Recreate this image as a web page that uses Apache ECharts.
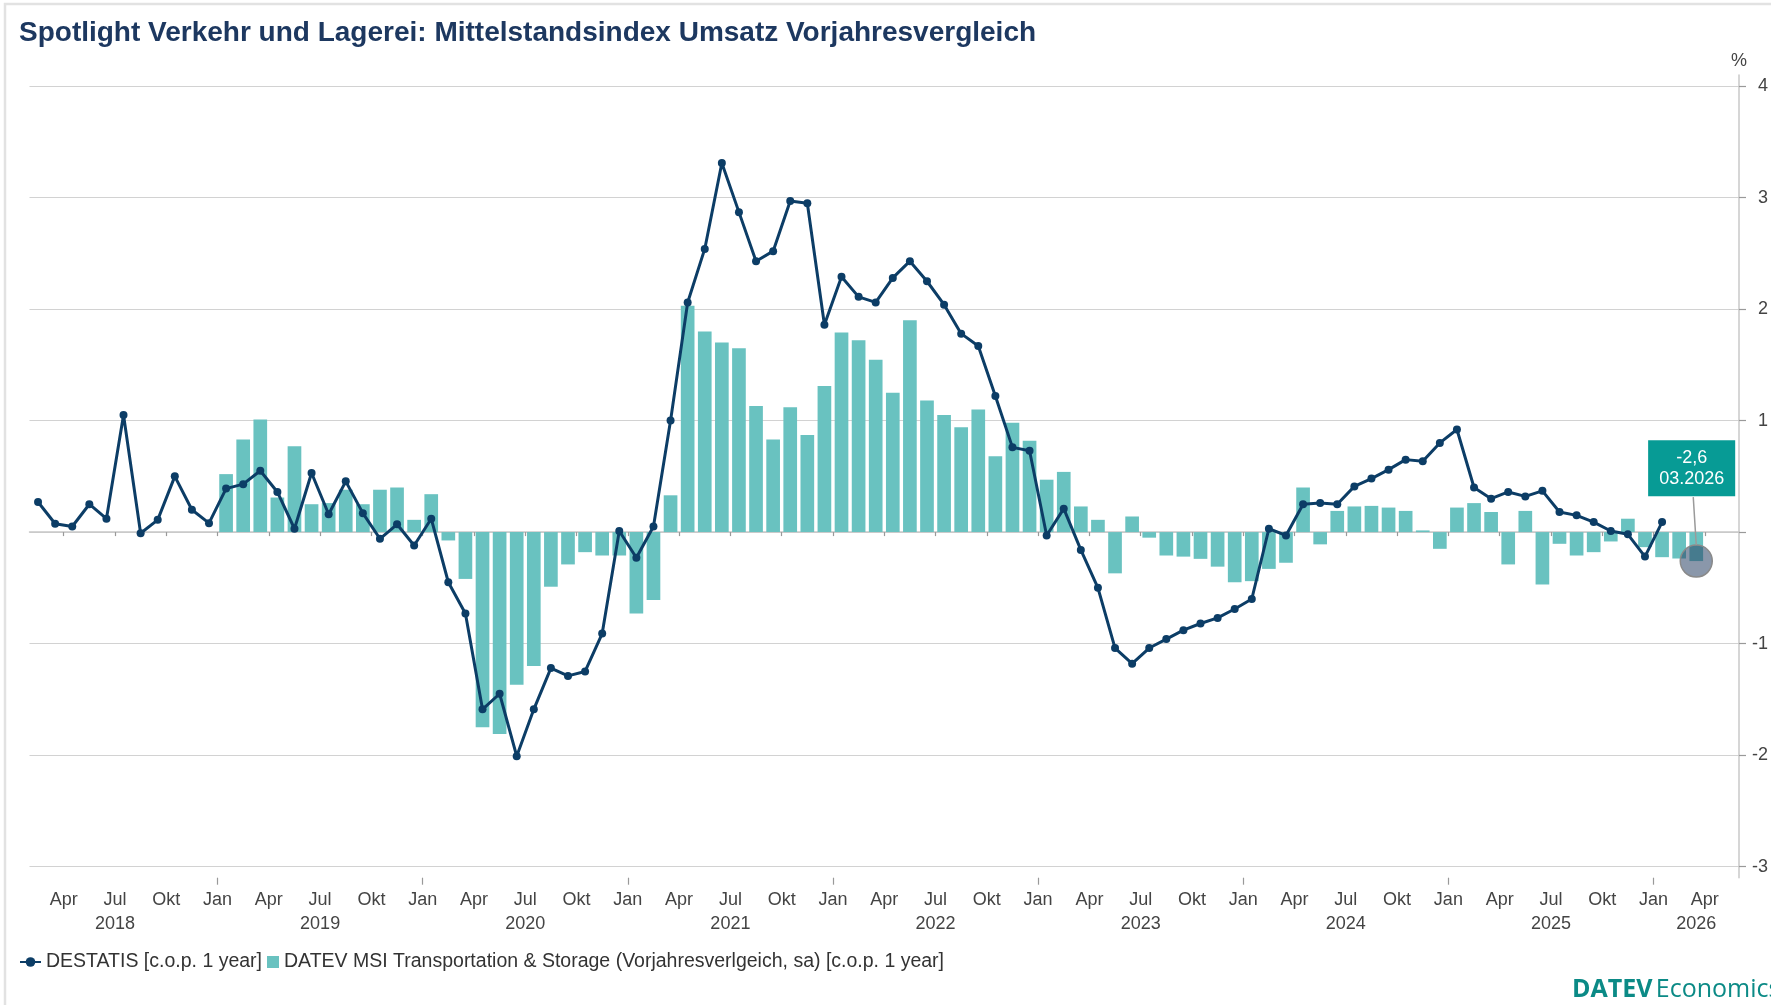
<!DOCTYPE html>
<html>
<head>
<meta charset="utf-8">
<title>Spotlight Verkehr und Lagerei</title>
<script src="https://cdn.jsdelivr.net/npm/echarts@6.0.0/dist/echarts.min.js"></script>
<style>
  html, body { margin: 0; padding: 0; background: #fff; }
  #chart { width: 1771px; height: 1005px; }
</style>
</head>
<body>
<div id="chart"></div>
<script>
// Monatsachse Feb 2018 - Mai 2026
const startYear = 2018;
const startMonth = 2;
const monthCount = 100;

// DESTATIS, Feb 2018 - Jan 2026 (sichtbare Skala, %)
const destatis = [
  0.27, 0.075, 0.05, 0.25, 0.12, 1.05, -0.01, 0.11, 0.50, 0.20, 0.08,
  0.39, 0.43, 0.55, 0.36, 0.03, 0.53, 0.16, 0.455, 0.17, -0.06, 0.07, -0.12,
  0.12, -0.45, -0.73, -1.59, -1.45, -2.01, -1.59, -1.22, -1.29, -1.25, -0.91, 0.01,
  -0.23, 0.05, 1.00, 2.06, 2.54, 3.31, 2.87, 2.43, 2.52, 2.97, 2.95, 1.86,
  2.29, 2.11, 2.06, 2.28, 2.43, 2.25, 2.04, 1.78, 1.67, 1.22, 0.76, 0.73,
  -0.03, 0.21, -0.16, -0.50, -1.04, -1.18, -1.04, -0.96, -0.88, -0.82, -0.77, -0.69,
  -0.60, 0.03, -0.03, 0.25, 0.26, 0.25, 0.41, 0.48, 0.56, 0.65, 0.635, 0.80,
  0.92, 0.40, 0.30, 0.36, 0.32, 0.37, 0.18, 0.15, 0.09, 0.01, -0.02, -0.22,
  0.09
];
const destatisStart = '2018-02';

// DATEV MSI Verkehr & Lagerei, Jan 2019 - Mrz 2026
const datevMsi = [
  5.2, 8.3, 10.1, 3.1, 7.7, 2.5, 2.6, 3.8, 2.5, 3.8, 4.0, 1.1,
  3.4, -0.75, -4.2, -17.5, -18.1, -13.7, -12.0, -4.9, -2.9, -1.8, -2.1, -2.1,
  -7.3, -6.1, 3.3, 20.3, 18.0, 17.0, 16.5, 11.3, 8.3, 11.2, 8.7, 13.1,
  17.9, 17.2, 15.45, 12.5, 19.0, 11.8, 10.5, 9.4, 11.0, 6.8, 9.8, 8.2,
  4.7, 5.4, 2.3, 1.1, -3.7, 1.4, -0.5, -2.1, -2.2, -2.4, -3.1, -4.5,
  -4.4, -3.3, -2.75, 4.0, -1.1, 1.9, 2.3, 2.35, 2.2, 1.9, 0.15, -1.5,
  2.2, 2.6, 1.8, -2.9, 1.9, -4.7, -1.05, -2.1, -1.8, -0.84, 1.2, -1.35,
  -2.25, -2.37, -2.6
];
const datevStart = '2019-01';

const monthNames = { '01': 'Jan', '04': 'Apr', '07': 'Jul', '10': 'Okt' };
const yTicks = [-3, -2, -1, 0, 1, 2, 3, 4];

const lineName = 'DESTATIS [c.o.p. 1 year]';
const barName = 'DATEV MSI Transportation & Storage (Vorjahresverlgeich, sa) [c.o.p. 1 year]';

const months = [];
for (let i = 0; i < monthCount; i++) {
  const m = (startMonth - 1 + i) % 12 + 1;
  const y = startYear + Math.floor((startMonth - 1 + i) / 12);
  months.push(y + '-' + String(m).padStart(2, '0'));
}
// Monatsanfaenge (Tick-Positionen), ein Eintrag mehr als Monate
const monthStarts = months.concat(['2026-06']);
const lastTickLabel = '2026-04';

function alignTo (values, start) {
  const off = months.indexOf(start);
  return months.map((m, i) => {
    const k = i - off;
    return k >= 0 && k < values.length ? values[k] : null;
  });
}

const lineData = alignTo(destatis, destatisStart);
const barData = alignTo(datevMsi, datevStart);
const lastIdx = months.indexOf(datevStart) + datevMsi.length - 1;
const lastMonth = months[lastIdx];
const lastValue = barData[lastIdx];

const font = 'Liberation Sans, Arial, Helvetica, sans-serif';
const axisGray = '#c8c8c8';
const labelGray = '#444';

const isQuarter = (idx, val) => monthNames[val.split('-')[1]] !== undefined;

const chart = echarts.init(document.getElementById('chart'));

const option = {
  animation: false,
  backgroundColor: '#fff',
  textStyle: { fontFamily: font },
  title: {
    text: 'Spotlight Verkehr und Lagerei: Mittelstandsindex Umsatz Vorjahresvergleich',
    left: 14,
    top: 12,
    textStyle: { fontSize: 28, fontWeight: 'bold', color: '#1d3860', fontFamily: font, lineHeight: 32 }
  },
  legend: [
    {
      data: [lineName],
      left: 14,
      top: 947,
      itemWidth: 21,
      itemHeight: 12,
      textStyle: { fontSize: 19.5, color: '#333', fontFamily: font }
    },
    {
      data: [{ name: barName, icon: 'rect' }],
      left: 262,
      top: 947,
      itemWidth: 12,
      itemHeight: 12,
      textStyle: { fontSize: 19.5, color: '#333', fontFamily: font }
    }
  ],
  grid: { left: 29.5, right: 30.3, top: 75, bottom: 127.3, containLabel: false },
  xAxis: [
    {
      // Datenachse (Monatsmitte)
      type: 'category',
      data: months,
      position: 'bottom',
      boundaryGap: true,
      show: false
    },
    {
      // Quartalsticks an Monatsanfaengen
      type: 'category',
      data: monthStarts,
      position: 'bottom',
      boundaryGap: false,
      axisLine: { show: true, lineStyle: { color: axisGray, width: 1.5 } },
      axisTick: { show: true, interval: isQuarter, length: 4, lineStyle: { color: '#999', width: 1.2 } },
      splitLine: { show: false },
      axisLabel: {
        interval: isQuarter,
        margin: 10,
        color: labelGray,
        fontSize: 18,
        formatter: function (val) {
          const parts = val.split('-');
          const name = monthNames[parts[1]];
          if (parts[1] === '07') return '{m|' + name + '}\n{y|' + parts[0] + '}';
          if (val === lastTickLabel) return '{m|' + name + '}\n{ye|' + parts[0] + '}';
          return '{m|' + name + '}';
        },
        rich: {
          m: { fontSize: 18, lineHeight: 24, color: labelGray, fontFamily: font },
          y: { fontSize: 18, lineHeight: 24, color: labelGray, fontFamily: font },
          ye: { fontSize: 18, lineHeight: 24, color: labelGray, fontFamily: font, padding: [0, 17, 0, 0] }
        }
      }
    },
    {
      // laengere Ticks am Jahresanfang
      type: 'category',
      data: monthStarts,
      position: 'bottom',
      boundaryGap: false,
      axisLine: { show: false },
      axisTick: { show: true, interval: (idx, val) => val.split('-')[1] === '01', length: 7, lineStyle: { color: '#999', width: 1.2 } },
      axisLabel: { show: false },
      splitLine: { show: false }
    }
  ],
  yAxis: [
    {
      type: 'value',
      position: 'right',
      min: -3.1,
      max: 4.1,
      name: '%',
      nameLocation: 'end',
      nameGap: 5,
      nameTextStyle: { fontSize: 18, color: labelGray, fontFamily: font, align: 'center' },
      axisLine: { show: true, lineStyle: { color: axisGray, width: 1.5 } },
      axisTick: { show: true, length: 7, customValues: yTicks, lineStyle: { color: '#999', width: 1.2 } },
      axisLabel: {
        customValues: yTicks,
        margin: 29,
        align: 'right',
        color: labelGray,
        fontSize: 18,
        formatter: v => (v === 0 ? '' : String(v))
      },
      splitLine: { show: true, lineStyle: { color: '#d2d2d2', width: 1.2 } }
    },
    {
      // MSI-Skala (Faktor 10)
      type: 'value',
      position: 'right',
      min: -31,
      max: 41,
      show: false,
      splitLine: { show: false }
    }
  ],
  series: [
    {
      name: barName,
      type: 'bar',
      xAxisIndex: 0,
      yAxisIndex: 1,
      data: barData,
      barCategoryGap: '20%',
      itemStyle: { color: '#69c2c0' },
      markPoint: {
        symbol: 'circle',
        symbolSize: 32,
        itemStyle: { color: 'rgba(42,65,100,0.55)', borderColor: '#8a8a8a', borderWidth: 1.5 },
        label: {
          show: true,
          position: 'top',
          distance: 48,
          offset: [-4.6, 0],
          formatter: () => String(lastValue).replace('.', ',') + '\n' + lastMonth.split('-')[1] + '.' + lastMonth.split('-')[0],
          color: '#fff',
          fontSize: 18,
          lineHeight: 21,
          fontFamily: font,
          align: 'center',
          backgroundColor: '#079b95',
          padding: [7, 11, 7, 11]
        },
        data: [{ coord: [lastMonth, lastValue], value: lastValue }]
      }
    },
    {
      name: lineName,
      type: 'line',
      xAxisIndex: 0,
      yAxisIndex: 0,
      data: lineData,
      connectNulls: false,
      showAllSymbol: true,
      symbol: 'circle',
      symbolSize: 8,
      lineStyle: { color: '#0c3d66', width: 3 },
      itemStyle: { color: '#0c3d66' },
      z: 5
    }
  ]
};

chart.setOption(option);

// Rahmen, Verbindungslinie zur Markierung, Logo
const p = chart.convertToPixel({ xAxisIndex: 0, yAxisIndex: 1 }, [lastMonth, lastValue]);
chart.setOption({
  graphic: [
    {
      type: 'rect',
      shape: { x: 5, y: 4, width: 2000, height: 2000 },
      style: { fill: 'none', stroke: '#e2e2e2', lineWidth: 2.5 },
      silent: true,
      z: -1
    },
    {
      type: 'line',
      shape: { x1: p[0] - 3, y1: p[1] - 64, x2: p[0], y2: p[1] - 16 },
      style: { stroke: '#9a9a9a', lineWidth: 1.5 },
      silent: true,
      z: 10
    },
    {
      type: 'text',
      x: 1572,
      y: 990,
      style: {
        text: '{b|DATEV} {n|Economics}',
        verticalAlign: 'middle',
        rich: {
          b: { fontFamily: 'Open Sans', fontWeight: 'bold', fontSize: 25, fill: '#0b8a86' },
          n: { fontFamily: 'Open Sans', fontWeight: 'normal', fontSize: 25, fill: '#0b8a86' }
        }
      },
      silent: true
    }
  ]
});
</script>
</body>
</html>
